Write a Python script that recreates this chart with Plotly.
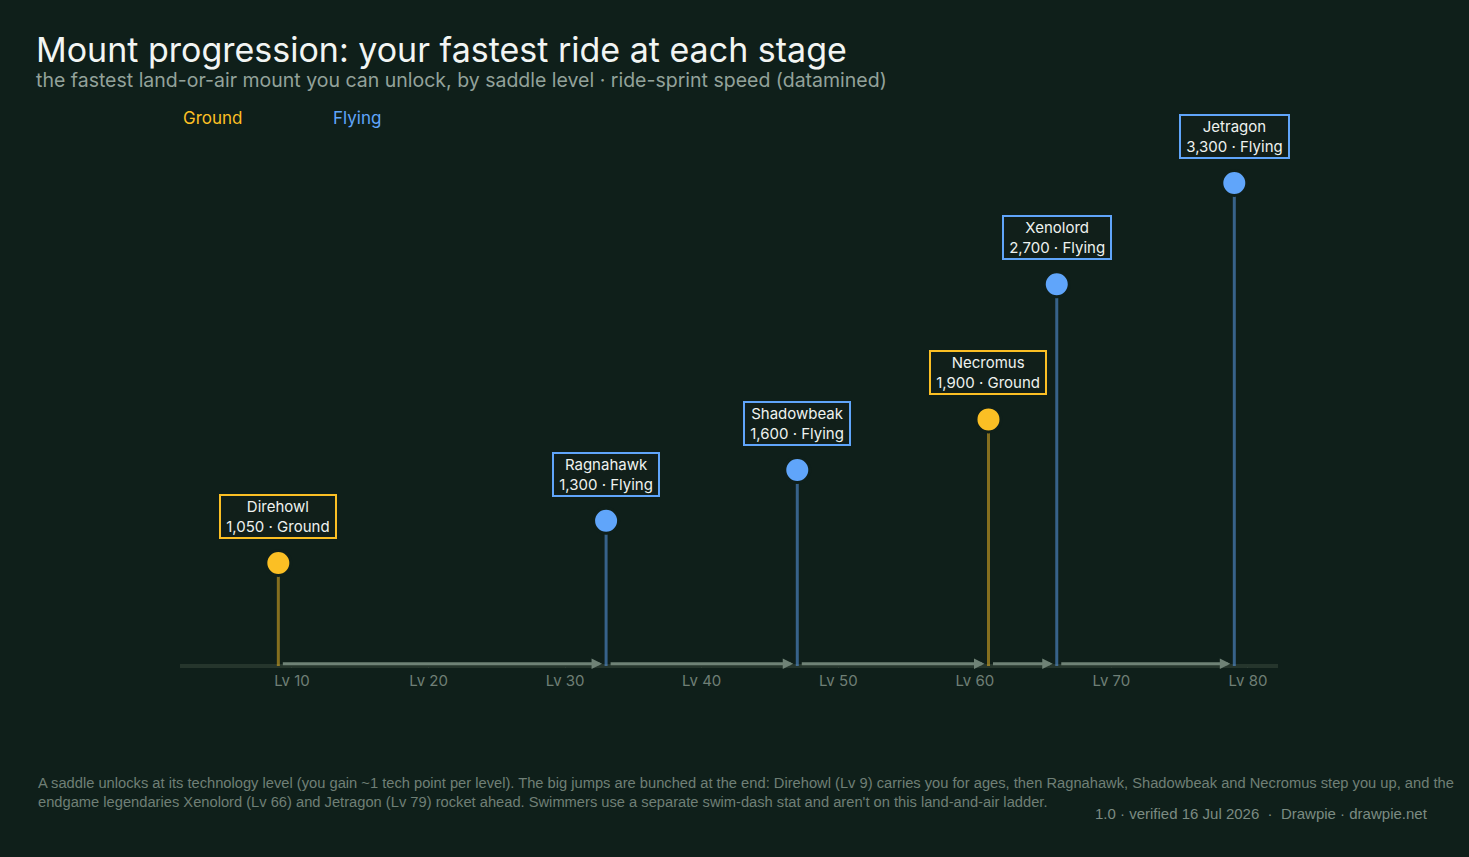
import plotly.graph_objects as go

# ---- data ----
mounts = ["Direhowl", "Ragnahawk", "Shadowbeak", "Necromus", "Xenolord", "Jetragon"]
levels = [9, 33, 47, 61, 66, 79]
speeds = [1050, 1300, 1600, 1900, 2700, 3300]
kinds = ["Ground", "Flying", "Flying", "Ground", "Flying", "Flying"]
tick_levels = [10, 20, 30, 40, 50, 60, 70, 80]
tick_labels = ["Lv %d" % v for v in tick_levels]

# ---- style ----
W, H = 1469, 857
L, R, T, B = 180, 191, 100, 191
PW, PH = W - L - R, H - T - B
BG = "#0f1f1a"
INTER = "Inter, Liberation Sans, Arial, sans-serif"
LIB = "Liberation Sans, Arial, Helvetica, sans-serif"
DOT = {"Ground": "#fbbf24", "Flying": "#60a5fa"}
STEM = {"Ground": "rgba(251,191,36,0.5)", "Flying": "rgba(96,165,250,0.5)"}
ARROW = "#6f8276"
AXIS = "#25352c"
YMIN, YMAX = 440, 3791
XMIN, XMAX = 1.8, 82.2


def px_x(px):
    return (px - L) / PW


def px_y(py):
    return (H - B - py) / PH


fig = go.Figure()

# stems
for kind in ["Ground", "Flying"]:
    xs, ys = [], []
    for lv, sp, k in zip(levels, speeds, kinds):
        if k == kind:
            xs += [lv, lv, None]
            ys += [YMIN, sp, None]
    fig.add_trace(go.Scatter(x=xs, y=ys, mode="lines", line=dict(color=STEM[kind], width=3),
                             hoverinfo="skip", showlegend=False, cliponaxis=False))

# markers
for kind in ["Ground", "Flying"]:
    xs = [lv for lv, k in zip(levels, kinds) if k == kind]
    ys = [sp for sp, k in zip(speeds, kinds) if k == kind]
    names = [m for m, k in zip(mounts, kinds) if k == kind]
    fig.add_trace(go.Scatter(x=xs, y=ys, mode="markers", name=kind, text=names,
                             marker=dict(color=DOT[kind], size=25, line=dict(color=BG, width=3)),
                             showlegend=False, cliponaxis=False))

annotations = []

# progression arrows along the baseline
for i in range(len(levels) - 1):
    annotations.append(dict(
        x=levels[i + 1], y=0.004, xref="x", yref="y domain",
        ax=levels[i], ay=0.004, axref="x", ayref="y domain",
        text="", showarrow=True, arrowhead=2, arrowsize=0.7, arrowwidth=3,
        arrowcolor=ARROW, standoff=4, startstandoff=3,
    ))

# labels
for m, lv, sp, k in zip(mounts, levels, speeds, kinds):
    annotations.append(dict(
        x=lv, y=sp, xref="x", yref="y", yanchor="bottom", yshift=24,
        text="&nbsp;%s&nbsp;<br>&nbsp;%s · %s&nbsp;" % (m, f"{sp:,}", k), showarrow=False,
        font=dict(family=INTER, size=15, color="#eef2ef"), align="center",
        bgcolor="#111f1a", bordercolor=DOT[k], borderwidth=2, borderpad=1,
    ))

# title, subtitle, legend, footer
annotations += [
    dict(x=px_x(34), y=px_y(49), xref="paper", yref="paper", xanchor="left", yanchor="middle",
         text="Mount progression: your fastest ride at each stage", showarrow=False,
         font=dict(family=INTER, size=34, color="#f2f5f3")),
    dict(x=px_x(34), y=px_y(80), xref="paper", yref="paper", xanchor="left", yanchor="middle",
         text="the fastest land-or-air mount you can unlock, by saddle level · ride-sprint speed (datamined)",
         showarrow=False, font=dict(family=INTER, size=19.5, color="#93a29a")),
    dict(x=px_x(181), y=px_y(118), xref="paper", yref="paper", xanchor="left", yanchor="middle",
         text="Ground", showarrow=False, font=dict(family=INTER, size=17, color=DOT["Ground"])),
    dict(x=px_x(331), y=px_y(118), xref="paper", yref="paper", xanchor="left", yanchor="middle",
         text="Flying", showarrow=False, font=dict(family=INTER, size=17, color=DOT["Flying"])),
    dict(x=px_x(36), y=px_y(773), xref="paper", yref="paper", xanchor="left", yanchor="top",
         align="left", showarrow=False, font=dict(family=LIB, size=14.7, color="#6f7f76"),
         text=("A saddle unlocks at its technology level (you gain ~1 tech point per level). The big jumps are "
               "bunched at the end: Direhowl (Lv 9) carries you for ages, then Ragnahawk, Shadowbeak and "
               "Necromus step you up, and the<br>endgame legendaries Xenolord (Lv 66) and Jetragon (Lv 79) "
               "rocket ahead. Swimmers use a separate swim-dash stat and aren't on this land-and-air ladder.")),
    dict(x=px_x(1430), y=px_y(813), xref="paper", yref="paper", xanchor="right", yanchor="middle",
         showarrow=False, font=dict(family=LIB, size=15, color="#7b8b82"),
         text="1.0 · verified 16 Jul 2026  ·  Drawpie · drawpie.net"),
]

shapes = [dict(type="line", xref="x domain", yref="y domain", x0=0, x1=1, y0=0, y1=0,
               line=dict(color=AXIS, width=4), layer="below")]

fig.update_layout(
    width=W, height=H, margin=dict(l=L, r=R, t=T, b=B, autoexpand=False),
    paper_bgcolor=BG, plot_bgcolor=BG, showlegend=False,
    font=dict(family=INTER, color="#eef2ef"),
    annotations=annotations, shapes=shapes,
    xaxis=dict(range=[XMIN, XMAX], tickvals=tick_levels, ticktext=tick_labels,
               showgrid=False, zeroline=False, showline=False,
               ticks="outside", ticklen=1, tickwidth=1, tickcolor="#2e3e35",
               tickfont=dict(family=INTER, size=15, color="#6f7f76"), fixedrange=True),
    yaxis=dict(range=[YMIN, YMAX], visible=False, fixedrange=True),
    hovermode="closest",
)

fig.write_html("out.html", config={"displayModeBar": False})
